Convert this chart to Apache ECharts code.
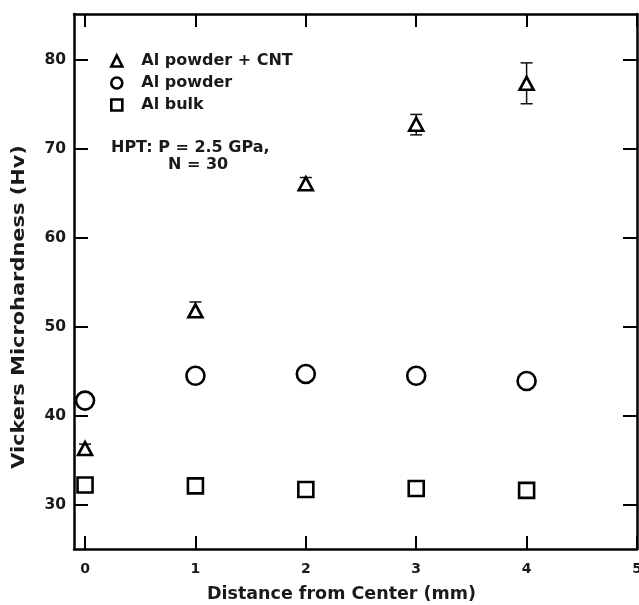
<!DOCTYPE html>
<html>
<head>
<meta charset="utf-8">
<script src="https://cdn.jsdelivr.net/npm/echarts@6/dist/echarts.min.js"></script>
<style>
  html, body { margin: 0; padding: 0; background: #fff; }
  #chart { width: 639px; height: 605px; }
</style>
</head>
<body>
<div id="chart"></div>
<script>
var distances = [0, 1, 2, 3, 4];
var cntValues = [36.3, 51.8, 66.1, 72.8, 77.4];
var cntLow = [35.8, 51.3, 65.5, 71.6, 75.1];
var cntHigh = [36.8, 52.8, 66.8, 73.9, 79.7];
var powderValues = [41.7, 44.5, 44.7, 44.5, 43.9];
var bulkValues = [32.2, 32.1, 31.7, 31.8, 31.6];
var xTicks = [0, 1, 2, 3, 4, 5];
var yTicks = [30, 40, 50, 60, 70, 80];

var chart = echarts.init(document.getElementById('chart'));

function pairs(vals) {
	return distances.map(function (d, i) { return [d, vals[i]]; });
}

var errData = distances.map(function (d, i) { return [d, cntLow[i], cntHigh[i]]; });

var font = 'DejaVu Sans';
var ink = '#1a1a1a';
var markerStyle = { color: '#fff', borderColor: '#000', borderWidth: 2.6, opacity: 1 };

var option = {
	animation: false,
	textStyle: { fontFamily: font },
	grid: { left: 74, right: 2, top: 14, bottom: 56, outerBoundsMode: 'none' },
	legend: {
		orient: 'vertical',
		left: 105,
		top: 48,
		itemGap: 6,
		itemWidth: 11,
		itemHeight: 11,
		selectedMode: false,
		itemStyle: { borderWidth: 2.6, borderColor: '#000', color: '#fff', opacity: 1 },
		textStyle: { fontFamily: font, fontWeight: 'bold', fontSize: 16, color: ink, padding: [0, 0, 0, 14] },
		data: ['Al powder + CNT', 'Al powder', 'Al bulk']
	},
	graphic: [
		{ type: 'text', left: 111, top: 140, style: { text: 'HPT: P = 2.5 GPa,', font: 'bold 16px ' + font, fill: ink } },
		{ type: 'text', left: 168, top: 157, style: { text: 'N = 30', font: 'bold 16px ' + font, fill: ink } },
		{
			type: 'text', x: 20, y: 307, rotation: Math.PI / 2, scaleX: 1.23,
			style: { text: 'Vickers Microhardness (Hv)', font: 'bold 17px ' + font, fill: ink, align: 'center', verticalAlign: 'middle' }
		}
	],
	xAxis: [
		{
			type: 'value', min: -0.1, max: 5, position: 'bottom',
			name: 'Distance from Center (mm)', nameLocation: 'middle', nameGap: 36,
			nameTextStyle: { fontFamily: font, fontWeight: 'bold', fontSize: 17.5, color: ink, padding: [0, 28, 0, 0] },
			axisLine: { onZero: false, lineStyle: { color: '#000', width: 2.5 } },
			axisTick: { inside: true, length: 13, customValues: xTicks, lineStyle: { width: 2, color: '#000' } },
			axisLabel: { customValues: xTicks, fontWeight: 'bold', fontSize: 14, color: ink, margin: 13 },
			splitLine: { show: false }
		},
		{
			type: 'value', min: -0.1, max: 5, position: 'top',
			axisLine: { onZero: false, lineStyle: { color: '#000', width: 2.5 } },
			axisTick: { inside: true, length: 13, customValues: xTicks, lineStyle: { width: 2, color: '#000' } },
			axisLabel: { show: false },
			splitLine: { show: false }
		}
	],
	yAxis: [
		{
			type: 'value', min: 25, max: 85.2, position: 'left',
			axisLine: { onZero: false, lineStyle: { color: '#000', width: 2.5 } },
			axisTick: { inside: true, length: 14, customValues: yTicks, lineStyle: { width: 2, color: '#000' } },
			axisLabel: { customValues: yTicks, fontWeight: 'bold', fontSize: 15.5, color: ink, margin: 8 },
			splitLine: { show: false }
		},
		{
			type: 'value', min: 25, max: 85.2, position: 'right',
			axisLine: { onZero: false, lineStyle: { color: '#000', width: 2.5 } },
			axisTick: { inside: true, length: 14, customValues: yTicks, lineStyle: { width: 2, color: '#000' } },
			axisLabel: { show: false },
			splitLine: { show: false }
		}
	],
	series: [
		{
			type: 'custom',
			name: 'err',
			data: errData,
			z: 1,
			renderItem: function (params, api) {
				var x = api.value(0);
				var lo = api.coord([x, api.value(1)]);
				var hi = api.coord([x, api.value(2)]);
				var w = 6;
				var st = { stroke: '#111', lineWidth: 1.5 };
				return {
					type: 'group',
					children: [
						{ type: 'line', shape: { x1: lo[0], y1: lo[1], x2: hi[0], y2: hi[1] }, style: st },
						{ type: 'line', shape: { x1: hi[0] - w, y1: hi[1], x2: hi[0] + w, y2: hi[1] }, style: st },
						{ type: 'line', shape: { x1: lo[0] - w, y1: lo[1], x2: lo[0] + w, y2: lo[1] }, style: st }
					]
				};
			}
		},
		{
			name: 'Al powder + CNT', type: 'scatter', z: 3,
			symbol: 'triangle', symbolSize: [14, 13],
			itemStyle: markerStyle,
			data: pairs(cntValues)
		},
		{
			name: 'Al powder', type: 'scatter', z: 3,
			symbol: 'circle', symbolSize: 18,
			itemStyle: markerStyle,
			data: pairs(powderValues)
		},
		{
			name: 'Al bulk', type: 'scatter', z: 3,
			symbol: 'rect', symbolSize: 15,
			itemStyle: markerStyle,
			data: pairs(bulkValues)
		}
	]
};

chart.setOption(option);
</script>
</body>
</html>
